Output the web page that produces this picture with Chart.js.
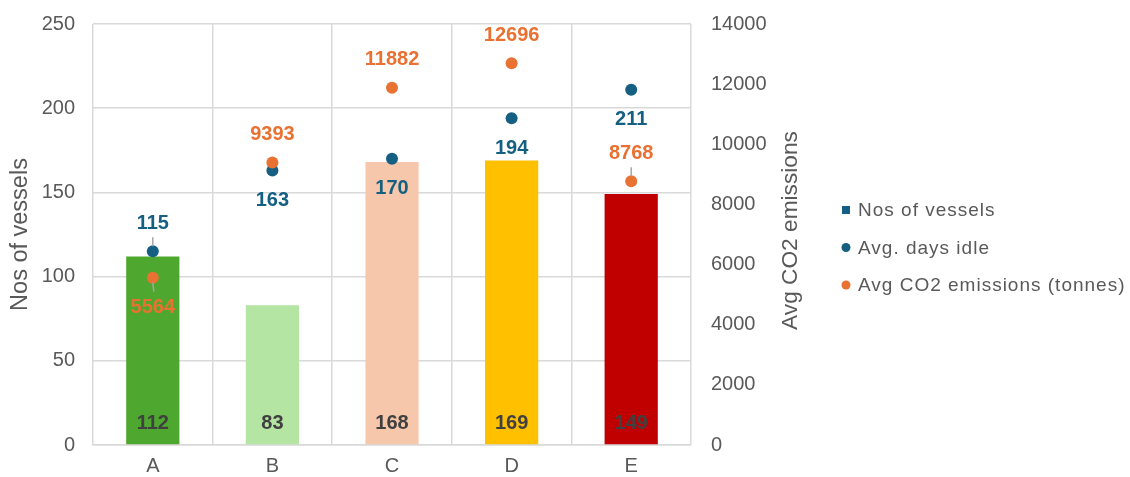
<!DOCTYPE html>
<html><head><meta charset="utf-8">
<script src="https://cdn.jsdelivr.net/npm/chart.js@4.4.1/dist/chart.umd.min.js"></script>
<style>html,body{margin:0;padding:0;background:#fff;}#wrap{width:1130px;height:477px;}</style>
</head><body><div id="wrap"><canvas id="c" width="1130" height="477"></canvas></div>
<script>
// ---- data ----
const categories = ['A', 'B', 'C', 'D', 'E'];
const vessels = [112, 83, 168, 169, 149];
const daysIdle = [115, 163, 170, 194, 211];
const co2 = [5564, 9393, 11882, 12696, 8768];
const leftTicks = [0, 50, 100, 150, 200, 250];
const rightTicks = [0, 2000, 4000, 6000, 8000, 10000, 12000, 14000];
const seriesNames = ['Nos of vessels', 'Avg. days idle', 'Avg CO2 emissions (tonnes)'];
const leftTitle = 'Nos of vessels';
const rightTitle = 'Avg CO2 emissions';

// ---- styles ----
const FONT = '"Liberation Sans", Arial, sans-serif';
const BLUE = '#156082', ORANGE = '#E97132', GRID = '#d9d9d9', TXT = '#595959';
const barColors = ['#4EA72E', '#B4E5A2', '#F7C7AC', '#FFC000', '#C00000'];
Chart.defaults.font.family = FONT;

const valueLabels = {
  id: 'valueLabels',
  afterDatasetsDraw(chart) {
    const ctx = chart.ctx;
    chart.data.datasets.forEach((ds, di) => {
      const lab = ds.valueLabel; if (!lab) return;
      const meta = chart.getDatasetMeta(di);
      ctx.save();
      ctx.font = 'bold 20px ' + FONT;
      ctx.textAlign = 'center'; ctx.textBaseline = 'middle';
      meta.data.forEach((el, i) => {
        const x = el.x; let y;
        if (ds.type === 'bar') { y = el.base - lab.baseOffset; }
        else {
          const s = lab.side[i] === 'above' ? -1 : 1;
          y = el.y + s * lab.offset;
          if (lab.leader && lab.leader[i]) {
            ctx.strokeStyle = '#a6a6a6'; ctx.lineWidth = 1.5;
            ctx.beginPath(); ctx.moveTo(x, el.y + s * 5); ctx.lineTo(x + (lab.leanX ? lab.leanX[i] : 0), y - s * 15); ctx.stroke();
          }
        }
        ctx.fillStyle = lab.color;
        ctx.fillText(String(ds.data[i]), x, y + 1);
      });
      ctx.restore();
    });
  }
};

const extras = {
  id: 'extras',
  afterDraw(chart) {
    const ctx = chart.ctx, ca = chart.chartArea;
    ctx.save();
    // right axis title (reads bottom-to-top)
    ctx.translate(791, (ca.top + ca.bottom) / 2 - 4);
    ctx.rotate(-Math.PI / 2);
    ctx.font = '22.7px ' + FONT; ctx.fillStyle = TXT;
    ctx.textAlign = 'center'; ctx.textBaseline = 'middle';
    ctx.fillText(rightTitle, 0, 0);
    ctx.restore();
    // legend
    ctx.save();
    ctx.font = '19px ' + FONT; ctx.textAlign = 'left'; ctx.textBaseline = 'middle';
    if ('letterSpacing' in ctx) ctx.letterSpacing = '1px';
    chart.data.datasets.forEach((ds, i) => {
      const y = 210 + i * 37.5, mx = 846;
      ctx.fillStyle = ds.legendColor;
      if (ds.type === 'bar') ctx.fillRect(mx - 4, y - 4, 8, 8);
      else { ctx.beginPath(); ctx.arc(mx, y, 4.5, 0, Math.PI * 2); ctx.fill(); }
      ctx.fillStyle = TXT;
      ctx.fillText(ds.label, 858, y + 1);
    });
    ctx.restore();
  }
};

new Chart(document.getElementById('c'), {
  data: {
    labels: categories,
    datasets: [
      {
        type: 'bar', label: seriesNames[0], data: vessels, yAxisID: 'y',
        backgroundColor: barColors, borderWidth: 0, order: 2,
        barPercentage: 0.445, categoryPercentage: 1,
        legendColor: BLUE,
        valueLabel: { color: '#404040', baseOffset: 22 }
      },
      {
        type: 'line', label: seriesNames[1], data: daysIdle, yAxisID: 'y',
        showLine: false, pointRadius: 6, pointBackgroundColor: BLUE, pointBorderWidth: 0,
        borderColor: BLUE, backgroundColor: BLUE, order: 1,
        legendColor: BLUE,
        valueLabel: { color: BLUE, offset: 29, side: ['above', 'below', 'below', 'below', 'below'], leader: [true, false, false, false, false] }
      },
      {
        type: 'line', label: seriesNames[2], data: co2, yAxisID: 'y2',
        showLine: false, pointRadius: 6, pointBackgroundColor: ORANGE, pointBorderWidth: 0,
        borderColor: ORANGE, backgroundColor: ORANGE, order: 0,
        legendColor: ORANGE,
        valueLabel: { color: ORANGE, offset: 29, side: ['below', 'above', 'above', 'above', 'above'], leader: [true, false, false, false, true], leanX: [1, 0, 0, 0, 0] }
      }
    ]
  },
  options: {
    responsive: false, animation: false, devicePixelRatio: 1,
    layout: { padding: { top: 24, right: 325, bottom: 0, left: 0 } },
    plugins: { legend: { display: false }, tooltip: { enabled: false } },
    scales: {
      x: {
        type: 'category', offset: true,
        grid: { color: GRID, lineWidth: 1.5, drawTicks: false, offset: true },
        border: { color: GRID, width: 1.5 },
        ticks: { color: TXT, font: { size: 20 }, padding: 9 },
        afterFit(s) { s.height = 32; }
      },
      y: {
        position: 'left', min: leftTicks[0], max: leftTicks[leftTicks.length - 1],
        ticks: { stepSize: leftTicks[1] - leftTicks[0], color: TXT, font: { size: 20 }, padding: 18, callback: v => String(v) },
        grid: { color: GRID, lineWidth: 1.5, drawTicks: false },
        border: { display: false },
        title: { display: true, text: leftTitle, color: TXT, font: { size: 23.5 }, padding: { top: 6, bottom: 0 } },
        afterFit(s) { s.width = 93; s.paddingTop = 0; s.paddingBottom = 0; }
      },
      y2: {
        position: 'right', min: rightTicks[0], max: rightTicks[rightTicks.length - 1],
        ticks: { stepSize: rightTicks[1] - rightTicks[0], color: TXT, font: { size: 20 }, padding: 20, callback: v => String(v) },
        grid: { display: false, drawTicks: false },
        border: { display: false },
        afterFit(s) { s.width = 114; s.paddingTop = 0; s.paddingBottom = 0; }
      }
    }
  },
  plugins: [valueLabels, extras]
});
</script></body></html>
